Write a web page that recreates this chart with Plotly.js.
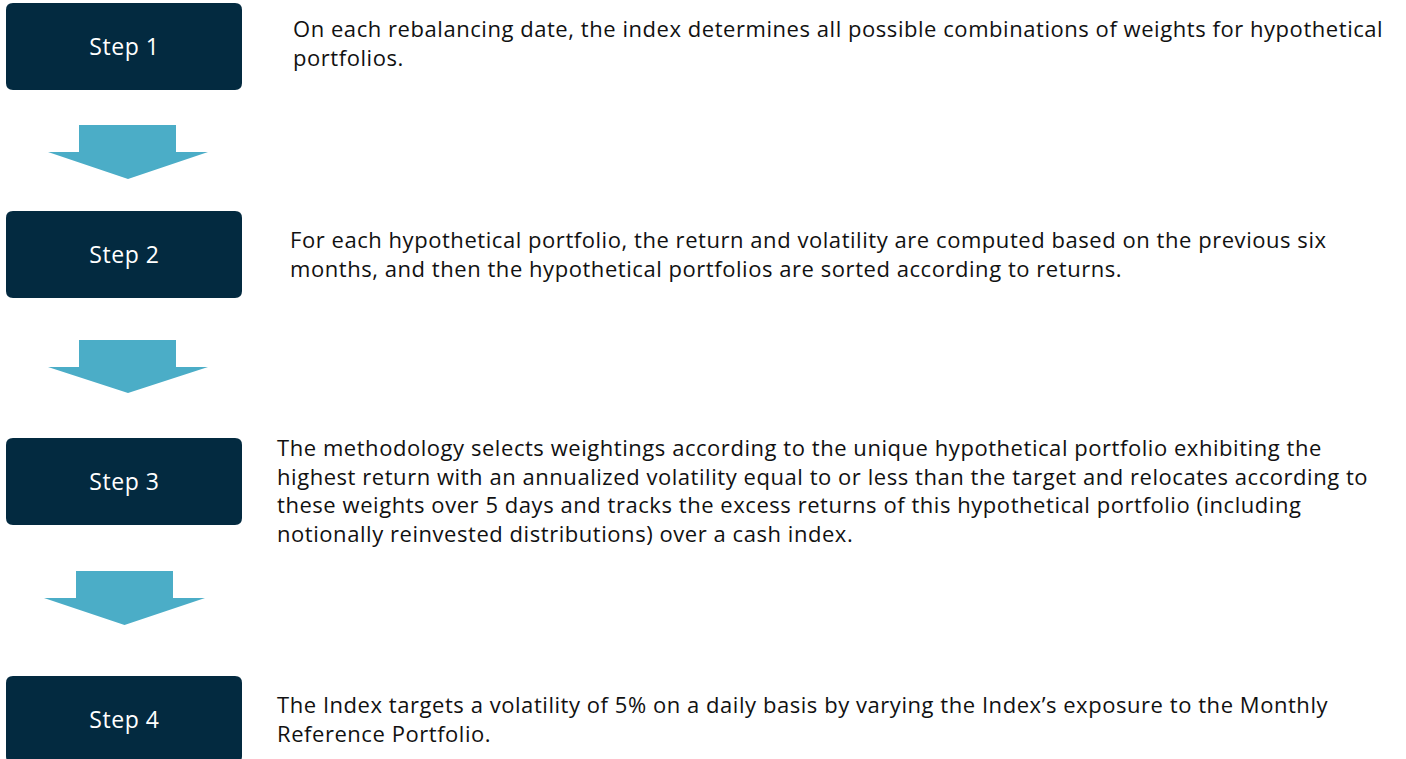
<!DOCTYPE html>
<html>
<head>
<meta charset="utf-8">
<script src="https://cdn.plot.ly/plotly-3.0.1.min.js"></script>
<style>
  html, body { margin: 0; padding: 0; background: #ffffff; }
  #chart { width: 1406px; height: 759px; }
  #chart .annotation-text { letter-spacing: 0.55px; }
</style>
</head>
<body>
<div id="chart"></div>
<script>
// ---- data ----
const stepLabels = ["Step 1", "Step 2", "Step 3", "Step 4"];
const stepDescriptions = [
  ["On each rebalancing date, the index determines all possible combinations of weights for hypothetical",
   "portfolios."],
  ["For each hypothetical portfolio, the return and volatility are computed based on the previous six",
   "months, and then the hypothetical portfolios are sorted according to returns."],
  ["The methodology selects weightings according to the unique hypothetical portfolio exhibiting the",
   "highest return with an annualized volatility equal to or less than the target and relocates according to",
   "these weights over 5 days and tracks the excess returns of this hypothetical portfolio (including",
   "notionally reinvested distributions) over a cash index."],
  ["The Index targets a volatility of 5% on a daily basis by varying the Index\u2019s exposure to the Monthly",
   "Reference Portfolio."]
];

// ---- layout geometry (styles/positions) ----
const W = 1406, H = 759;
const boxes = [
  {x0: 6, x1: 242, y0: 3,   y1: 90},
  {x0: 6, x1: 242, y0: 211, y1: 298},
  {x0: 6, x1: 242, y0: 438, y1: 525},
  {x0: 6, x1: 242, y0: 676, y1: 763}
];
const arrows = [
  {sx0: 79, sx1: 176, top: 125, neck: 152, hx0: 48, hx1: 208, tip: 179},
  {sx0: 79, sx1: 176, top: 340, neck: 367, hx0: 48, hx1: 208, tip: 393},
  {sx0: 76, sx1: 173, top: 571, neck: 598, hx0: 44, hx1: 205, tip: 625}
];
// left edge and first-line centre of each description block
const textBlocks = [
  {x: 291, y: 28},
  {x: 288, y: 239},
  {x: 275, y: 447},
  {x: 275, y: 704}
];
const TEXT_SIZE = 22;
const LINE_H = 1.3 * TEXT_SIZE; // Plotly's line pitch for multi-line text
const BOX_COLOR = "#032A40";
const ARROW_COLOR = "#4BADC7";
const TEXT_COLOR = "#111111";
const FONT = "'Open Sans', 'Noto Sans', sans-serif";

function roundRect(b, r) {
  return `M ${b.x0 + r} ${b.y0} L ${b.x1 - r} ${b.y0} Q ${b.x1} ${b.y0} ${b.x1} ${b.y0 + r} ` +
         `L ${b.x1} ${b.y1 - r} Q ${b.x1} ${b.y1} ${b.x1 - r} ${b.y1} ` +
         `L ${b.x0 + r} ${b.y1} Q ${b.x0} ${b.y1} ${b.x0} ${b.y1 - r} ` +
         `L ${b.x0} ${b.y0 + r} Q ${b.x0} ${b.y0} ${b.x0 + r} ${b.y0} Z`;
}
function arrowPath(a) {
  const cx = (a.hx0 + a.hx1) / 2;
  return `M ${a.sx0} ${a.top} L ${a.sx1} ${a.top} L ${a.sx1} ${a.neck} L ${a.hx1} ${a.neck} ` +
         `L ${cx} ${a.tip} L ${a.hx0} ${a.neck} L ${a.sx0} ${a.neck} Z`;
}

const shapes = [];
boxes.forEach(b => shapes.push({
  type: "path", xref: "x", yref: "y", path: roundRect(b, 7),
  fillcolor: BOX_COLOR, line: {width: 0}, layer: "below"
}));
arrows.forEach(a => shapes.push({
  type: "path", xref: "x", yref: "y", path: arrowPath(a),
  fillcolor: ARROW_COLOR, line: {width: 0}, layer: "below"
}));

const annotations = [];
stepLabels.forEach((lab, i) => {
  const b = boxes[i];
  annotations.push({
    x: (b.x0 + b.x1) / 2, y: (b.y0 + Math.min(b.y1, H + 4)) / 2 - 1,
    xref: "x", yref: "y", text: lab, showarrow: false,
    xanchor: "center", yanchor: "middle",
    font: {family: FONT, size: 23, color: "#ffffff"}
  });
});
stepDescriptions.forEach((lines, i) => {
  const tb = textBlocks[i];
  annotations.push({
    x: tb.x, y: tb.y + (lines.length - 1) * LINE_H / 2, xref: "x", yref: "y",
    text: lines.join("<br>"), showarrow: false, align: "left",
    xanchor: "left", yanchor: "middle",
    font: {family: FONT, size: TEXT_SIZE, color: TEXT_COLOR}
  });
});

const layout = {
  width: W, height: H,
  margin: {l: 0, r: 0, t: 0, b: 0, pad: 0},
  paper_bgcolor: "#ffffff", plot_bgcolor: "#ffffff",
  xaxis: {range: [0, W], visible: false, fixedrange: true},
  yaxis: {range: [H, 0], visible: false, fixedrange: true},
  shapes: shapes, annotations: annotations, showlegend: false
};

Plotly.newPlot("chart", [], layout, {displayModeBar: false, staticPlot: true});
</script>
</body>
</html>
